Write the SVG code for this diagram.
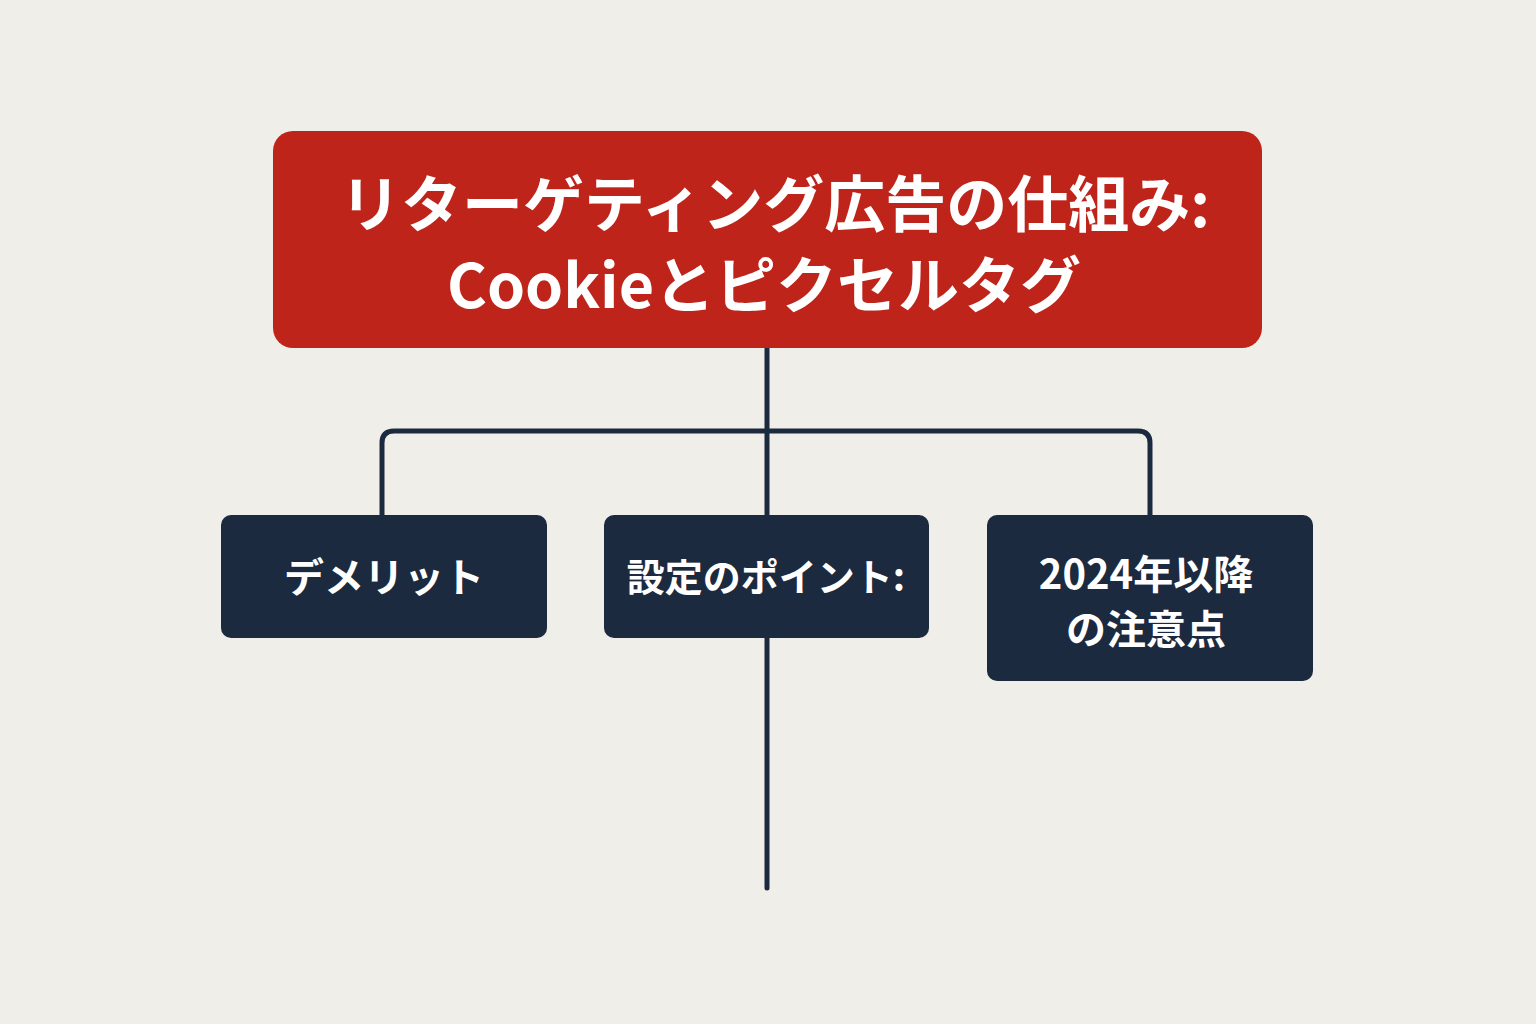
<svg xmlns="http://www.w3.org/2000/svg" width="1536" height="1024" viewBox="0 0 1536 1024">
<style>
.title{font-family:"Noto Sans CJK JP","Noto Sans",sans-serif;font-weight:700;fill:#FFFFFF;text-anchor:middle}
.lbl{font-family:"Noto Sans CJK JP","Noto Sans",sans-serif;font-weight:700;fill:#FFFFFF;text-anchor:middle}
.node{fill:#1C2A40}
.conn{fill:none;stroke:#1C2A40;stroke-width:5;stroke-linecap:round;stroke-linejoin:round}
</style>
<rect width="1536" height="1024" fill="#EFEEE9"/>
<g id="connectors">
<path class="conn" d="M767 348 V888"/>
<path class="conn" d="M382 515 V443 Q382 431 394 431 H1138 Q1150 431 1150 443 V515"/>
</g>
<g id="title">
<rect x="273" y="131" width="989" height="217" rx="20" fill="#BE241A"/>
<text class="title" x="775" y="227" font-size="61">リターゲティング広告の仕組み:</text>
<text class="title" x="764" y="308" font-size="61">Cookieとピクセルタグ</text>
</g>
<g id="node-demerit">
<rect class="node" x="221" y="515" width="326" height="123" rx="10"/>
<text class="lbl" x="384" y="592" font-size="40">デメリット</text>
</g>
<g id="node-setting">
<rect class="node" x="604" y="515" width="325" height="123" rx="10"/>
<text class="lbl" x="766" y="591" font-size="38">設定のポイント:</text>
</g>
<g id="node-2024">
<rect class="node" x="987" y="515" width="326" height="166" rx="10"/>
<text class="lbl" x="1146" y="589" font-size="40">2024年以降</text>
<text class="lbl" x="1146" y="644" font-size="40">の注意点</text>
</g>
</svg>
